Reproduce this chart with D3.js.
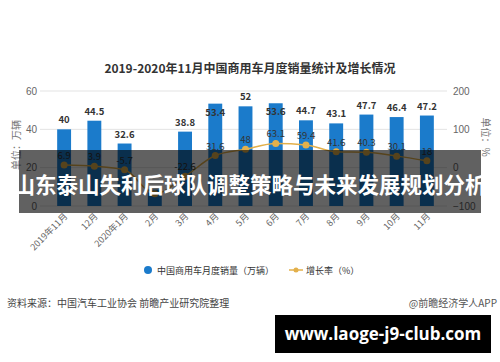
<!DOCTYPE html>
<html>
<head>
<meta charset="utf-8">
<script src="https://cdnjs.cloudflare.com/ajax/libs/d3/7.8.5/d3.min.js"></script>
<style>
  body { margin: 0; background: #fff; }
  svg { display: block; font-family: "Noto Sans CJK SC", "Noto Sans", sans-serif; }
</style>
</head>
<body>
<div id="chart"></div>
<script>
// data
var months = ["2019年11月", "12月", "2020年1月", "2月", "3月", "4月", "5月", "6月", "7月", "8月", "9月", "10月", "11月"];
var sales = [40, 44.5, 32.6, 8.6, 38.8, 53.4, 52, 53.6, 44.7, 43.1, 47.7, 46.4, 47.2];
var growth = [6.9, 3.9, -5.7, -68.3, -22.6, 31.6, 48, 63.1, 59.4, 41.6, 40.3, 30.1, 18];
var leftTicks = [0, 20, 40, 60];
var rightTicks = [-100, 0, 100, 200];
// labels covered by the caption band in the picture
var hiddenLabels = ["2月"];

var svgWidth = 500;
var svgHeight = 362;

var margin = { top: 91, right: 58, bottom: 156, left: 49 };
var width = svgWidth - margin.left - margin.right;
var height = svgHeight - margin.top - margin.bottom;

var svg = d3.select("#chart")
  .append("svg")
  .attr("width", svgWidth)
  .attr("height", svgHeight);

// title
svg.append("text")
  .attr("x", 250)
  .attr("y", 73)
  .attr("text-anchor", "middle")
  .attr("font-size", 12)
  .attr("font-weight", "bold")
  .attr("fill", "#333")
  .text("2019-2020年11月中国商用车月度销量统计及增长情况");

var chartGroup = svg.append("g")
  .attr("transform", `translate(${margin.left}, ${margin.top})`);

// scales
var xScale = d3.scaleBand()
  .domain(months)
  .range([0, width])
  .paddingInner(0.54)
  .paddingOuter(0.27);

var yLeft = d3.scaleLinear().domain([0, 60]).range([height, 0]);
var yRight = d3.scaleLinear().domain([-100, 200]).range([height, 0]);

var cx = (d, i) => xScale(months[i]) + xScale.bandwidth() / 2;
var shown = (d, i) => hiddenLabels.indexOf(months[i]) < 0;

// gridlines
chartGroup.append("g")
  .selectAll("line")
  .data(leftTicks)
  .enter()
  .append("line")
  .attr("x1", -9)
  .attr("x2", width + 5)
  .attr("y1", d => yLeft(d))
  .attr("y2", d => yLeft(d))
  .attr("stroke", "#e3e3e3")
  .attr("stroke-width", 1);

// left axis
var leftAxis = d3.axisLeft(yLeft).tickValues(leftTicks).tickSize(0).tickPadding(12);
var gl = chartGroup.append("g").call(leftAxis);
gl.select(".domain").remove();
gl.selectAll("text").attr("fill", "#666").attr("font-size", 10);

// right axis
var rightAxis = d3.axisRight(yRight).tickValues(rightTicks).tickSize(0).tickPadding(11);
var gr = chartGroup.append("g")
  .attr("transform", `translate(${width}, 0)`)
  .call(rightAxis);
gr.select(".domain").remove();
gr.selectAll("text").attr("fill", "#666").attr("font-size", 10);

// axis titles
svg.append("text")
  .attr("transform", "translate(20, 145) rotate(-90)")
  .attr("text-anchor", "middle")
  .attr("font-size", 10)
  .attr("fill", "#777")
  .text("单位：万辆");

svg.append("text")
  .attr("transform", "translate(482, 137) rotate(90)")
  .attr("text-anchor", "middle")
  .attr("font-size", 10)
  .attr("fill", "#777")
  .text("单位：%");

// bars
chartGroup.selectAll("rect.bar")
  .data(sales)
  .enter()
  .append("rect")
  .attr("class", "bar")
  .attr("x", (d, i) => xScale(months[i]))
  .attr("y", d => yLeft(d))
  .attr("width", xScale.bandwidth())
  .attr("height", d => height - yLeft(d))
  .attr("fill", "#1b7bcb");

// bar labels (the tallest ones sit inside the bar top)
chartGroup.selectAll("text.barlabel")
  .data(sales.filter(shown))
  .enter()
  .append("text")
  .attr("class", "barlabel")
  .attr("x", d => cx(d, sales.indexOf(d)))
  .attr("y", d => d > 53 ? yLeft(d) + 12 : yLeft(d) - 6)
  .attr("text-anchor", "middle")
  .attr("font-size", 9.5)
  .attr("font-weight", "bold")
  .attr("fill", "#333")
  .text(d => d);

// growth line
var line = d3.line()
  .x(cx)
  .y(d => yRight(d))
  .curve(d3.curveMonotoneX);

chartGroup.append("path")
  .datum(growth)
  .attr("d", line)
  .attr("fill", "none")
  .attr("stroke", "#e3b04b")
  .attr("stroke-width", 1.5);

chartGroup.selectAll("circle.pt")
  .data(growth)
  .enter()
  .append("circle")
  .attr("class", "pt")
  .attr("cx", cx)
  .attr("cy", d => yRight(d))
  .attr("r", 3.5)
  .attr("fill", "#e3b04b");

chartGroup.selectAll("text.ptlabel")
  .data(growth.filter(shown))
  .enter()
  .append("text")
  .attr("class", "ptlabel")
  .attr("x", d => cx(d, growth.indexOf(d)))
  .attr("y", d => yRight(d) - 6)
  .attr("text-anchor", "middle")
  .attr("font-size", 9.5)
  .attr("fill", "#333")
  .text(d => d);

// x labels
chartGroup.selectAll("text.xlabel")
  .data(months)
  .enter()
  .append("text")
  .attr("class", "xlabel")
  .attr("transform", d => `translate(${xScale(d) + xScale.bandwidth() / 2 + 4}, ${height + 11}) rotate(-45)`)
  .attr("text-anchor", "end")
  .attr("font-size", 9)
  .attr("fill", "#666")
  .text(d => d);

// legend
var legend = svg.append("g").attr("font-size", 9).attr("fill", "#333");
legend.append("circle").attr("cx", 148).attr("cy", 270).attr("r", 4).attr("fill", "#1b7bcb");
legend.append("text").attr("x", 157).attr("y", 273.5).attr("fill", "#333").text("中国商用车月度销量（万辆）");
legend.append("line").attr("x1", 289).attr("x2", 303).attr("y1", 270).attr("y2", 270)
  .attr("stroke", "#e3b04b").attr("stroke-width", 1.5);
legend.append("circle").attr("cx", 296).attr("cy", 270).attr("r", 2.5).attr("fill", "#e3b04b");
legend.append("text").attr("x", 306).attr("y", 273.5).attr("fill", "#333").text("增长率（%）");

// source
svg.append("text")
  .attr("x", 7).attr("y", 307)
  .attr("font-size", 10).attr("fill", "#444")
  .text("资料来源：中国汽车工业协会 前瞻产业研究院整理");
svg.append("text")
  .attr("x", 497).attr("y", 307)
  .attr("text-anchor", "end")
  .attr("font-size", 10).attr("fill", "#555")
  .text("@前瞻经济学人APP");

// dark caption band over the chart
svg.append("rect")
  .attr("x", 19).attr("y", 150)
  .attr("width", 462).attr("height", 63)
  .attr("fill", "rgba(0,0,0,0.62)");
svg.append("text")
  .attr("x", 250).attr("y", 193)
  .attr("text-anchor", "middle")
  .attr("font-size", 21.5)
  .attr("font-weight", "bold")
  .attr("fill", "#fff")
  .text("山东泰山失利后球队调整策略与未来发展规划分析");

// url banner
svg.append("rect")
  .attr("x", 275).attr("y", 315)
  .attr("width", 216).attr("height", 38)
  .attr("fill", "#000");
svg.append("text")
  .attr("x", 383).attr("y", 340)
  .attr("text-anchor", "middle")
  .attr("font-size", 17)
  .attr("font-weight", "bold")
  .attr("font-family", "'Open Sans', 'DejaVu Sans', sans-serif")
  .attr("fill", "#fff")
  .text("www.laoge-j9-club.com");
</script>
</body>
</html>
